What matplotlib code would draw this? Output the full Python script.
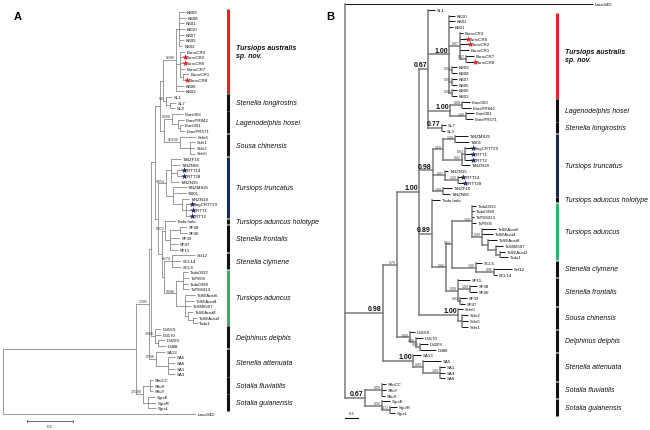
import matplotlib
matplotlib.use("Agg")
import matplotlib.pyplot as plt
from matplotlib.collections import LineCollection

plt.rcParams['font.family'] = ['Liberation Sans', 'DejaVu Sans']

# ------------------------------------------------------------------ data
# Panel A: ML tree (branch lengths in substitutions/site; labels = bootstrap ML/MP)
A_AUS = ("((KB09:0.013,KB08:0.015,KB01:0.011,KB10:0.013,KB07:0.011,KB05:0.011,KB02:0.007):0.007,"
         "(BurruCR3:0.011,BurruCR2:0.009,BurruCR6:0.009,BurruCR7:0.011,(BurruCR1:0.013,BurruCR8:0.007):0.007):0.009,"
         "KB06:0.017,KB03:0.017)86/80")
A_SL = "(SL1:0.013,(SL7:0.011,SL3:0.009):0.009)54/-"
A_LHOS = "(Lhos003:0.024,(LhosPR842:0.013,(Lhos001:0.007,LhosPR571:0.011):0.004):0.013)82/88"
A_SCHI = "(Schi6:0.035,(Schi1:0.011,Schi2:0.011,Schi5:0.011):0.022)92/100"
A_TT = ("((TtNZF10:0.022,TtNZN06:0.020,(CRTT14:0.013,CRTT28:0.013):0.013,TtNZN35:0.017):0.011,"
        "(TtNZMS25:0.030,Tt001:0.030,(TtNZN18:0.015,(TtngCRTT29:0.011,CRTT1:0.013,CRTT2:0.011):0.009):0.020):0.015)54/54")
A_SF = "(Tadu holo:0.022,((SF38:0.015,SF40:0.015):0.020,SF39:0.020,SF47:0.017,SF15:0.017):0.011)63/72"
A_SCL = "(Scl12:0.050,SCL14:0.020,SCL6:0.020)81/74"
A_TADU = ("((Tadu0032:0.011,TaPE05:0.013,Tadu0398:0.011,TaPE8413:0.013):0.015,"
          "(TaSEAust6:0.022,TaSEAust4:0.020,TaXM6507:0.013,(TaSEAust8:0.011,(TaSEAust2:0.007,Tadu1:0.009):0.011):0.007):0.020)93/86")
A_DD = "(Dd169:0.013,Dd170:0.013,(Dd209:0.015,Dd88:0.017):0.007)79/80"
A_SA = "(SA13:0.020,(SA5:0.015,SA6:0.015,SA1:0.015,SA3:0.015):0.026)67/98"
A_SOT = "((SfluCC:0.007,SfluX:0.007,SfluY:0.007):0.015,(SguiE:0.015,SguiR:0.017,SguiL:0.017):0.011)72/100"

A_G1 = f"(({A_AUS}:0.028,{A_SL}:0.007):0.007,({A_LHOS}:0.017,{A_SCHI}:0.035):0.009)"
A_G2 = f"({A_TT}:0.017,({A_SF}:0.007,({A_SCL}:0.017,{A_TADU}:0.026):0.004):0.009)"
A_X = f"(({A_G1}:0.011,{A_G2}:0.007):0.009,{A_DD}:0.009)"
A_ING = f"(({A_X}:0.004,{A_SA}:0.015)71/85:0.028,{A_SOT}:0.015)"
TREE_A = f"({A_ING}:0.289,Lacu94D:0.420);"

# Panel B: Bayesian tree (labels = posterior probabilities, "!" = shown large/bold)
B_AUS = ("(KB10:0.045,KB02:0.045,KB01:0.030,"
         "(BurruCR3:0.023,BurruCR6:0.053,BurruCR2:0.068,BurruCR1:0.068,(BurruCR7:0.060,BurruCR8:0.060)0.97:0.045)0.87:0.083,"
         "(KB09:0.038,KB08:0.038)0.99:0.023,(KB07:0.038,KB05:0.038)0.95:0.023,(KB06:0.038,KB03:0.038)0.98:0.023)1.00!")
B_LHOS = "((Lhos003:0.060,LhosPR842:0.068)0.88:0.090,(Lhos001:0.060,LhosPR571:0.053)1.00:0.120)1.00!"
B_SL = "(SL7:0.030,SL3:0.023)0.77!"
B_N3 = f"(SL1:0.053,{B_AUS}:0.158,{B_LHOS}:0.165,{B_SL}:0.105)0.67!"
B_TT = ("(((TtNZMS25:0.098,Tt001:0.105)1.00:0.090,((TtngCRTT29:0.053,CRTT1:0.053,CRTT2:0.053)0.83:0.023,TtNZN18:0.060)0.82:0.143)0.69:0.075,"
        "(TtNZN35:0.023,(CRTT14:0.030,CRTT28:0.045)1.00:0.098)0.97:0.090,(TtNZF10:0.068,TtNZN06:0.053)1.00:0.075)0.98!")
B_TADU = ("(Tadu0032:0.030,Tadu0398:0.015,TaPE8413:0.015,TaPE05:0.030,"
          "(TaSEAust6:0.105,TaSEAust4:0.083,(TaSEAust8:0.068,(TaXM6507:0.053,(TaSEAust2:0.038,Tadu1:0.060):0.030):0.060):0.045)0.99:0.075)1.00")
B_SCL = "(SCL6:0.045,(Scl12:0.135,SCL14:0.023)0.96:0.135)1.00"
B_SF = "(SF15:0.090,(SF38:0.053,SF40:0.053)1.00:0.090,(SF39:0.053,SF47:0.038)0.81:0.015)0.99"
B_N5 = f"(Tadu holo:0.060,(({B_TADU}:0.150,{B_SCL}:0.180)0.62:0.045,{B_SF}:0.090)0.66:0.105)0.89!"
B_SCHI = "(Schi6:0.038,(Schi2:0.045,Schi5:0.045,Schi1:0.045):0.030)1.00!"
B_DD = "(Dd169:0.038,(Dd170:0.053,(Dd209:0.060,Dd88:0.120)0.92:0.030)0.86:0.045)0.84"
B_SA = "(SA13:0.060,(SA5:0.135,(SA1:0.038,SA3:0.038,SA6:0.038)1.00:0.128)0.80:0.075)1.00!"
B_SOT = "((SfluCC:0.030,SfluY:0.030,SfluX:0.023)0.98:0.128,(SguiE:0.060,(SguiR:0.053,SguiL:0.038)0.72:0.060)0.90:0.128)0.67!"
B_N2 = f"({B_N3}:0.068,{B_TT}:0.105,{B_N5}:0.098,{B_SCHI}:0.293)1.00!"
B_MAIN = f"(({B_N2}:0.165,{B_DD}:0.098)0.79:0.105,{B_SA}:0.226)0.98!"
TREE_B = f"(Lacu94D:1.865,{B_MAIN}:0.286,{B_SOT}:0.150);"

# clade bars: (name, first tip, last tip, colour key)
CLADES_A = [
    ("Tursiops australis\nsp. nov.", "KB09", "KB03", "red"),
    ("Stenella longirostris", "SL1", "SL3", "black"),
    ("Lagenodelphis hosei", "Lhos003", "LhosPR571", "black"),
    ("Sousa chinensis", "Schi6", "Schi5", "black"),
    ("Tursiops truncatus", "TtNZF10", "CRTT2", "navy"),
    ("Tursiops aduncus holotype", "Tadu holo", "Tadu holo", "black"),
    ("Stenella frontalis", "SF38", "SF15", "black"),
    ("Stenella clymene", "Scl12", "SCL6", "black"),
    ("Tursiops aduncus", "Tadu0032", "Tadu1", "green"),
    ("Delphinus delphis", "Dd169", "Dd88", "black"),
    ("Stenella attenuata", "SA13", "SA3", "black"),
    ("Sotalia fluviatilis", "SfluCC", "SfluY", "black"),
    ("Sotalia guianensis", "SguiE", "SguiL", "black"),
]
CLADES_B = [
    ("Tursiops australis\nsp. nov.", "KB10", "KB03", "red"),
    ("Lagenodelphis hosei", "Lhos003", "LhosPR571", "black"),
    ("Stenella longirostris", "SL7", "SL3", "black"),
    ("Tursiops truncatus", "TtNZMS25", "TtNZN06", "navy"),
    ("Tursiops aduncus holotype", "Tadu holo", "Tadu holo", "black"),
    ("Tursiops aduncus", "Tadu0032", "Tadu1", "green"),
    ("Stenella clymene", "SCL6", "SCL14", "black"),
    ("Stenella frontalis", "SF15", "SF47", "black"),
    ("Sousa chinensis", "Schi6", "Schi1", "black"),
    ("Delphinus delphis", "Dd169", "Dd88", "black"),
    ("Stenella attenuata", "SA13", "SA6", "black"),
    ("Sotalia fluviatilis", "SfluCC", "SfluX", "black"),
    ("Sotalia guianensis", "SguiE", "SguiL", "black"),
]
STARS_RED_A = ["BurruCR2", "BurruCR6", "BurruCR8"]
STARS_BLUE_A = ["CRTT14", "CRTT28", "TtngCRTT29", "CRTT1", "CRTT2"]
STARS_RED_B = ["BurruCR6", "BurruCR2", "BurruCR8"]
STARS_BLUE_B = ["TtngCRTT29", "CRTT1", "CRTT2", "CRTT14", "CRTT28"]
SCALE_LEN = 0.1

COLORS = {"red": "#e8202a", "black": "#111111", "navy": "#1b2a5c", "green": "#2fb26c"}


# ------------------------------------------------------------------ tree utils
def parse(s):
    pos = 0

    def node():
        nonlocal pos
        n = {"ch": [], "name": "", "bl": 0.0}
        if s[pos] == "(":
            pos += 1
            while True:
                n["ch"].append(node())
                if s[pos] == ",":
                    pos += 1
                    continue
                if s[pos] == ")":
                    pos += 1
                    break
        start = pos
        while pos < len(s) and s[pos] not in "(),:;":
            pos += 1
        n["name"] = s[start:pos].strip()
        if pos < len(s) and s[pos] == ":":
            pos += 1
            start = pos
            while s[pos] not in "(),;":
                pos += 1
            n["bl"] = float(s[start:pos])
        return n

    return node()


def layout(root):
    tips = []

    def rec(n, px):
        n["x"] = px + n["bl"]
        if n["ch"]:
            for c in n["ch"]:
                rec(c, n["x"])
            n["y"] = (n["ch"][0]["y"] + n["ch"][-1]["y"]) / 2
        else:
            n["y"] = len(tips)
            tips.append(n)

    root["bl"] = 0.0
    rec(root, 0.0)
    return tips


def all_nodes(n, parent=None):
    yield n, parent
    for c in n["ch"]:
        yield from all_nodes(c, n)


def draw_tree(ax, tree_str, tip_fs, sup_small, sup_big, line_int, line_tip, sup_color):
    root = parse(tree_str)
    tips = layout(root)
    segs_int, segs_tip = [], []
    for n, p in all_nodes(root):
        if n["ch"]:
            segs_int.append([(n["x"], n["ch"][0]["y"]), (n["x"], n["ch"][-1]["y"])])
        if p is not None:
            seg = [(p["x"], n["y"]), (n["x"], n["y"])]
            (segs_int if n["ch"] else segs_tip).append(seg)
        if n["ch"] and n["name"] and p is not None:
            lab = n["name"]
            big = lab.endswith("!")
            lab = lab.rstrip("!")
            ax.annotate(lab, (n["x"], n["y"]), xytext=(-0.8, 0.5), textcoords="offset points",
                        ha="right", va="bottom", fontsize=sup_big if big else sup_small,
                        fontweight="bold" if big else "normal",
                        color="#111111" if big else sup_color, zorder=4)
    ax.add_collection(LineCollection(segs_int, colors=line_int[0], linewidths=line_int[1],
                                     capstyle="projecting", zorder=2))
    ax.add_collection(LineCollection(segs_tip, colors=line_tip[0], linewidths=line_tip[1],
                                     capstyle="butt", zorder=2))
    pos = {}
    for t in tips:
        pos[t["name"]] = (t["x"], t["y"])
        ax.annotate(t["name"], (t["x"], t["y"]), xytext=(1.3, 0), textcoords="offset points",
                    ha="left", va="center", fontsize=tip_fs, color="#111111", zorder=4)
    return pos


def draw_clades(ax, pos, clades, bar_x, name_x, fs):
    for name, first, last, ck in clades:
        y0 = pos[first][1] - 0.45
        y1 = pos[last][1] + 0.45
        ax.plot([bar_x, bar_x], [y0, y1], color=COLORS[ck], lw=2.2, solid_capstyle="butt", zorder=3)
        bold = "\n" in name
        ax.text(name_x, (y0 + y1) / 2, name, ha="left", va="center", fontsize=fs,
                style="italic", fontweight="bold" if bold else "normal",
                color="#111111", linespacing=1.25)


def draw_stars(ax, pos, names, color, dx):
    xs = [pos[n][0] + dx for n in names]
    ys = [pos[n][1] for n in names]
    ax.scatter(xs, ys, marker="*", s=22, color=color, linewidths=0, zorder=5)


# ------------------------------------------------------------------ figure
W, H = 650, 431
fig = plt.figure(figsize=(W / 100, H / 100), dpi=100)

# Panel A  (460 px per unit, tip spacing 5.66 px)
PXA, DYA, Y0A = 460.0, 5.66, 13.0
axA = fig.add_axes([0, 0, 325 / W, 1])
axA.set_xlim(-3 / PXA, 322 / PXA)
axA.set_ylim((H - Y0A) / DYA, -Y0A / DYA)
axA.axis("off")
posA = draw_tree(axA, TREE_A, tip_fs=3.2, sup_small=2.5, sup_big=2.5,
                 line_int=("#8a8a8a", 0.6), line_tip=("#8a8a8a", 0.6), sup_color="#333333")
draw_clades(axA, posA, CLADES_A, bar_x=225 / PXA, name_x=233 / PXA, fs=5.0)
draw_stars(axA, posA, STARS_RED_A, COLORS["red"], 0.8 / PXA)
draw_stars(axA, posA, STARS_BLUE_A, COLORS["navy"], 0.8 / PXA)
# scale bar A
ysb = (422 - Y0A) / DYA
x0 = 24 / PXA
axA.plot([x0, x0 + SCALE_LEN], [ysb, ysb], color="#555555", lw=0.6)
for xx in (x0, x0 + SCALE_LEN):
    axA.plot([xx, xx], [ysb - 0.25, ysb + 0.25], color="#555555", lw=0.6)
axA.text(x0 + SCALE_LEN / 2, ysb + 0.9, "0.1", ha="center", va="center", fontsize=3.2, color="#333333")

# Panel B  (133 px per unit, tip spacing 5.76 px)
PXB, DYB, Y0B = 133.0, 5.76, 5.0
axB = fig.add_axes([325 / W, 0, 325 / W, 1])
axB.set_xlim(-20 / PXB, 305 / PXB)
axB.set_ylim((H - Y0B) / DYB, -Y0B / DYB)
axB.axis("off")
posB = draw_tree(axB, TREE_B, tip_fs=3.2, sup_small=2.6, sup_big=5.0,
                 line_int=("#7a7a7a", 1.1), line_tip=("#111111", 0.7), sup_color="#444444")
draw_clades(axB, posB, CLADES_B, bar_x=212 / PXB, name_x=220 / PXB, fs=5.0)
draw_stars(axB, posB, STARS_RED_B, COLORS["red"], 1.0 / PXB)
draw_stars(axB, posB, STARS_BLUE_B, COLORS["navy"], 1.0 / PXB)
ysb = (419 - Y0B) / DYB
axB.plot([0, SCALE_LEN], [ysb, ysb], color="#111111", lw=0.8)
axB.text(SCALE_LEN / 2, ysb - 0.6, "0.1", ha="center", va="bottom", fontsize=3.2, color="#222222")

fig.text(18 / W, 1 - 17 / H, "A", fontsize=8, fontweight="bold", ha="center", va="center")
fig.text(330 / W, 1 - 17 / H, "B", fontsize=8, fontweight="bold", ha="center", va="center")

fig.savefig("out.png", dpi=100)
